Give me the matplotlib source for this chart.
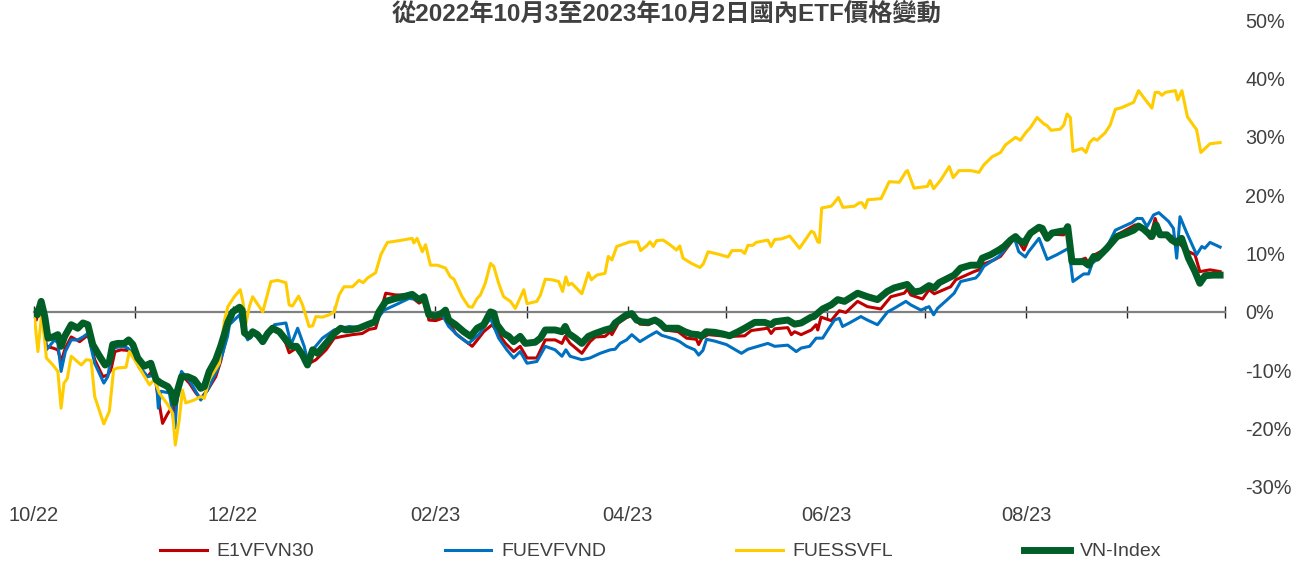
import numpy as np
import pandas as pd
import matplotlib
matplotlib.use('Agg')
import matplotlib.pyplot as plt
import matplotlib.dates as mdates
from matplotlib.ticker import FixedLocator, FuncFormatter

plt.rcParams['font.family'] = ['Liberation Sans', 'Noto Sans CJK TC', 'DejaVu Sans']

start = pd.Timestamp('2022-10-03')
end = pd.Timestamp('2023-10-03')

title = '從2022年10月3至2023年10月2日國內ETF價格變動'
names = ['E1VFVN30', 'FUEVFVND', 'FUESSVFL', 'VN-Index']
colors = ['#C00000', '#0070C0', '#FFCC00', '#005E26']

# x = days after 2022-10-03, y = % change
e1_days = [0, 0.7, 2.2, 3.8, 5.8, 7.3, 8.3, 9.6, 11.4, 14.0,
           16.0, 17.0, 18.6, 21.1, 22.6, 23.6, 24.8, 26.7, 28.7, 30.3,
           32.3, 34.8, 36.7, 37.7, 38.9, 39.4, 41.0, 42.5, 43.2, 44.5,
           45.2, 47.6, 49.6, 51.1, 53.2, 55.7, 57.2, 58.5, 59.9, 63.0,
           64.5, 66.0, 67.0, 68.5, 70.1, 71.6, 73.1, 75.2, 77.2, 78.2,
           80.4, 82.3, 83.8, 86.4, 89.5, 92.0, 94.5, 97.6, 100.6, 102.7,
           104.7, 106.3, 107.8, 110.8, 114.9, 118.0, 119.0, 120.0, 121.0, 123.1,
           125.1, 126.1, 129.2, 131.7, 134.3, 136.3, 137.8, 140.4, 141.9, 144.5,
           147.0, 149.0, 151.1, 154.1, 156.7, 159.7, 161.8, 162.8, 164.3, 167.9,
           170.4, 172.0, 175.0, 176.6, 177.1, 179.1, 182.1, 183.7, 185.7, 188.3,
           190.3, 193.4, 197.4, 200.0, 203.0, 203.7, 204.7, 206.6, 210.6, 213.7,
           217.8, 219.8, 224.9, 225.9, 227.0, 231.0, 232.1, 233.1, 235.1, 238.2,
           239.7, 240.2, 241.2, 244.3, 246.8, 248.8, 252.4, 255.4, 259.5, 262.6,
           266.7, 267.7, 268.7, 272.3, 274.3, 275.9, 280.9, 282.5, 288.1, 289.6,
           291.1, 294.2, 296.2, 299.3, 300.8, 303.4, 305.4, 308.0, 310.5, 312.0,
           315.6, 316.8, 318.1, 322.2, 323.2, 324.8, 328.8, 331.9, 337.5, 340.0,
           342.0, 343.6, 345.1, 349.2, 352.8, 355.8, 357.3, 360.4, 363.5]
e1_vals = [0, -1.4, 1.5, -5.9, -6.2, -6.5, -8.5, -6.2, -4.3, -5.1,
           -4.2, -4.3, -8.2, -11.1, -10.8, -9.9, -6.8, -6.5, -6.6, -7.1,
           -9.6, -11.1, -9.8, -13.4, -17.4, -19.1, -17.4, -16.2, -17.4, -12.8,
           -10.8, -12.2, -13.9, -14.8, -13.4, -11.1, -8.5, -5.4, -0.8, 0.7,
           -3.6, -4.5, -3.6, -4.2, -5.4, -3.9, -2.9, -3.6, -5.4, -7.0,
           -6.2, -7.6, -9.0, -8.2, -6.5, -4.5, -4.2, -3.9, -3.7, -3.0,
           -2.8, 0.3, 3.2, 2.9, 2.9, 1.5, 1.8, 2.3, -1.4, -1.5,
           -1.1, -0.6, -3.7, -4.8, -5.9, -4.5, -3.4, -2.2, -3.4, -5.4,
           -6.8, -5.9, -7.9, -7.9, -4.8, -4.8, -5.4, -4.2, -5.4, -7.1,
           -5.1, -4.3, -4.2, -3.4, -3.9, -1.9, -0.8, -0.7, -2.1, -2.2,
           -1.6, -3.1, -3.4, -4.5, -4.7, -5.6, -4.5, -3.9, -4.1, -4.2,
           -4.1, -3.2, -2.8, -3.7, -2.9, -2.7, -3.9, -3.4, -3.9, -3.1,
           -2.2, -3.1, -0.9, -1.5, 0.2, -0.1, 1.8, 0.9, 0.5, 2.6,
           3.2, 3.9, 2.9, 2.2, 3.8, 3.1, 4.3, 5.5, 6.9, 7.2,
           8.2, 8.9, 9.5, 11.8, 12.9, 10.6, 13.2, 14.3, 12.4, 13.3,
           13.2, 14.6, 8.3, 9.2, 8.3, 9.7, 10.9, 13.2, 14.9, 14.2,
           12.6, 16.0, 13.2, 12.9, 10.6, 9.8, 6.9, 7.2, 6.9]

fuev_days = [0, 2.2, 3.8, 6.3, 7.3, 8.3, 9.6, 11.4, 13.4, 15.0,
             16.5, 18.6, 21.4, 22.6, 24.1, 27.2, 28.7, 30.6, 32.3, 34.8,
             37.4, 38.1, 38.9, 41.5, 43.2, 44.0, 45.2, 48.1, 51.1, 53.2,
             56.2, 57.8, 59.3, 59.9, 63.0, 64.0, 65.5, 67.0, 70.1, 73.7,
             77.2, 78.8, 80.8, 82.8, 83.8, 85.4, 88.4, 92.0, 96.6, 100.6,
             104.2, 107.3, 110.8, 114.9, 118.0, 119.5, 121.0, 125.1, 127.1, 130.2,
             133.2, 136.3, 139.9, 142.4, 144.9, 147.0, 149.0, 151.1, 154.1, 156.7,
             159.7, 161.8, 163.0, 164.3, 167.9, 170.4, 173.5, 176.6, 178.1, 179.6,
             181.6, 183.2, 185.7, 188.3, 190.8, 192.3, 196.4, 197.9, 200.0, 202.5,
             203.7, 205.0, 206.1, 208.6, 212.2, 216.8, 218.8, 221.9, 224.9, 227.0,
             231.0, 233.6, 235.1, 237.7, 239.7, 241.7, 243.3, 245.3, 246.8, 247.8,
             249.9, 253.4, 255.4, 258.5, 261.6, 263.6, 267.2, 268.7, 271.8, 274.3,
             275.7, 276.9, 279.9, 282.0, 284.0, 288.6, 289.6, 291.1, 295.7, 298.3,
             300.3, 301.8, 303.8, 304.8, 308.0, 310.5, 313.5, 317.1, 318.4, 321.7,
             323.2, 324.3, 327.8, 331.4, 336.5, 338.0, 339.6, 341.1, 343.1, 344.7,
             347.7, 349.2, 350.2, 351.2, 353.3, 356.3, 357.9, 358.8, 360.4, 363.5]
fuev_vals = [-0.5, 1.2, -6.5, -4.8, -5.3, -10.2, -6.8, -4.8, -4.8, -4.3,
             -3.7, -8.8, -12.2, -11.1, -6.2, -5.9, -6.2, -7.4, -9.3, -11.1,
             -10.8, -16.5, -13.6, -13.9, -19.9, -13.4, -10.2, -12.2, -15.1, -13.4,
             -9.9, -7.1, -4.2, -2.2, -0.5, -3.1, -4.8, -3.7, -5.1, -2.2,
             -1.9, -5.6, -2.8, -5.9, -8.2, -6.5, -4.5, -3.1, -2.5, -2.8,
             -1.9, 0.3, 1.2, 2.3, 2.1, 2.4, -0.8, -0.5, -2.5, -4.2,
             -5.4, -3.9, -1.1, -4.5, -6.5, -7.9, -6.8, -8.8, -8.5, -5.9,
             -6.5, -7.6, -6.5, -7.6, -8.2, -7.9, -7.1, -6.5, -6.4, -5.4,
             -4.8, -3.9, -5.1, -4.2, -3.4, -4.0, -4.7, -5.1, -5.9, -6.5,
             -7.4, -6.6, -4.7, -5.0, -5.6, -7.1, -6.4, -5.9, -5.4, -5.9,
             -5.7, -6.8, -6.2, -5.9, -4.5, -4.5, -3.1, -1.4, -1.1, -2.5,
             -1.9, -0.8, -1.4, -2.2, 0.0, 0.6, 1.8, 1.2, 0.3, 0.9,
             -0.5, 0.6, 2.1, 3.2, 5.2, 5.8, 6.4, 7.8, 9.5, 11.2,
             12.9, 10.3, 9.4, 10.3, 12.6, 9.0, 9.8, 10.9, 5.2, 6.5,
             6.5, 8.3, 10.0, 14.0, 15.3, 16.0, 16.0, 14.6, 16.6, 17.0,
             15.5, 14.3, 9.2, 16.3, 13.5, 9.8, 11.2, 10.9, 11.9, 11.1]

fuess_days = [0, 1.2, 2.4, 3.8, 5.8, 7.3, 8.3, 9.2, 10.2, 11.4,
              14.5, 16.0, 17.5, 18.6, 21.4, 23.1, 24.4, 25.7, 28.2, 29.2,
              30.8, 32.3, 35.4, 36.9, 38.4, 41.0, 42.5, 43.3, 44.5, 45.5,
              46.5, 49.1, 51.1, 52.2, 53.7, 56.8, 57.5, 58.4, 59.4, 61.4,
              63.2, 64.0, 65.0, 66.0, 67.0, 70.1, 72.6, 74.7, 77.2, 78.2,
              79.2, 81.1, 82.3, 84.3, 85.4, 86.4, 88.4, 90.5, 92.0, 93.5,
              95.0, 97.6, 99.6, 100.9, 102.2, 104.7, 106.3, 108.3, 111.9, 115.9,
              116.4, 117.4, 119.0, 120.0, 121.5, 123.6, 126.1, 127.6, 128.7, 131.2,
              133.2, 134.3, 135.8, 136.8, 138.3, 139.9, 140.9, 142.4, 143.9, 146.0,
              147.5, 148.5, 150.1, 151.1, 152.6, 154.1, 155.2, 156.7, 158.7, 160.8,
              162.0, 163.0, 163.8, 164.8, 167.9, 169.9, 170.8, 172.5, 175.0, 176.0,
              177.1, 178.6, 180.6, 182.6, 185.0, 185.9, 187.7, 188.8, 189.8, 190.8,
              192.8, 194.9, 196.9, 197.9, 198.9, 201.5, 204.1, 205.1, 206.6, 209.6,
              212.7, 213.9, 216.8, 217.8, 218.8, 220.3, 221.3, 224.9, 225.9, 227.0,
              229.0, 231.6, 234.6, 237.2, 238.2, 239.0, 240.2, 240.7, 241.4, 244.3,
              245.1, 246.5, 247.9, 251.4, 253.0, 253.7, 254.7, 255.5, 259.6, 262.1,
              265.2, 267.2, 267.7, 269.7, 273.8, 274.6, 275.7, 277.9, 280.5, 281.7,
              283.5, 287.1, 289.6, 291.1, 293.7, 295.2, 296.2, 297.7, 300.8, 302.3,
              303.8, 305.4, 307.4, 309.5, 310.5, 311.7, 314.5, 315.6, 316.6, 317.6,
              318.4, 321.2, 322.4, 323.5, 324.8, 325.8, 328.3, 329.8, 331.4, 333.4,
              337.0, 338.5, 340.5, 342.6, 343.6, 344.7, 345.7, 346.7, 349.8, 350.5,
              351.8, 353.5, 356.3, 357.6, 360.4, 363.5]
fuess_vals = [0, -6.8, 0.0, -7.9, -9.1, -10.2, -16.5, -12.2, -11.4, -7.6,
              -9.1, -8.2, -8.3, -14.5, -19.2, -17.0, -9.9, -9.6, -9.5, -6.8,
              -8.2, -9.6, -12.5, -11.6, -13.9, -15.9, -17.4, -22.8, -18.5, -13.4,
              -15.6, -15.1, -14.5, -14.8, -11.6, -8.8, -5.0, -1.4, 0.9, 2.6,
              3.8, 1.8, -1.9, 0.9, 2.6, 0.0, 5.2, 5.4, 5.0, 1.2,
              1.0, 2.7, 1.2, -2.5, -2.4, -0.8, -0.9, -0.5, 0.0, 2.9,
              4.3, 4.3, 5.4, 5.0, 5.8, 6.7, 9.8, 11.9, 12.2, 12.6,
              11.8, 12.6, 10.3, 11.5, 8.0, 8.0, 7.5, 6.0, 5.6, 2.6,
              0.9, 0.8, 2.3, 2.9, 4.9, 8.3, 7.8, 4.9, 2.6, 1.8,
              0.6, 1.8, 3.8, 1.4, 1.6, 1.8, 2.9, 5.6, 5.5, 5.2,
              3.5, 6.0, 4.6, 4.9, 3.1, 6.7, 5.5, 6.3, 6.6, 9.5,
              8.9, 11.2, 11.6, 12.0, 12.0, 10.5, 11.3, 12.0, 11.2, 12.2,
              12.3, 11.5, 10.6, 11.3, 9.2, 8.3, 7.6, 8.2, 10.3, 9.9,
              9.4, 10.5, 10.5, 10.0, 11.4, 11.4, 11.9, 12.3, 11.2, 12.4,
              12.5, 13.0, 10.9, 13.0, 13.8, 13.6, 12.0, 11.9, 17.8, 18.1,
              18.6, 19.6, 17.9, 18.1, 18.7, 18.7, 17.8, 19.2, 19.4, 22.3,
              22.2, 24.0, 24.2, 21.2, 21.5, 22.5, 21.1, 22.6, 24.9, 23.0,
              24.2, 24.2, 23.9, 25.2, 26.6, 27.0, 27.3, 28.6, 29.9, 29.4,
              30.6, 31.6, 33.3, 32.2, 31.9, 31.1, 31.3, 32.0, 33.9, 33.3,
              27.5, 28.0, 27.3, 29.0, 29.7, 29.4, 30.7, 32.0, 34.7, 35.0,
              35.9, 37.9, 36.4, 34.9, 37.6, 37.6, 37.1, 37.6, 37.9, 36.3,
              37.9, 33.4, 31.2, 27.3, 28.8, 29.0]

vn_days = [0, 1.0, 2.2, 3.3, 4.3, 5.8, 7.3, 8.3, 9.4, 11.4,
           13.4, 15.0, 16.5, 18.0, 20.1, 21.8, 23.1, 24.1, 25.7, 27.7,
           29.0, 30.3, 31.8, 33.8, 35.8, 37.4, 38.9, 41.0, 42.3, 43.0,
           44.0, 45.2, 47.1, 49.1, 51.1, 52.2, 53.7, 55.7, 57.2, 58.3,
           59.4, 60.9, 63.0, 63.8, 64.5, 66.0, 67.0, 68.5, 70.1, 71.6,
           73.1, 75.2, 77.2, 78.8, 80.5, 82.3, 83.8, 85.4, 86.9, 89.5,
           92.0, 94.0, 95.6, 97.6, 99.6, 102.2, 104.5, 105.7, 107.8, 110.8,
           113.9, 115.9, 118.0, 119.5, 121.0, 123.1, 125.1, 126.1, 127.1, 129.2,
           131.7, 133.8, 135.8, 137.8, 139.9, 140.9, 141.9, 143.9, 145.5, 147.0,
           149.0, 150.6, 153.6, 155.2, 156.7, 159.7, 161.8, 162.8, 163.8, 165.9,
           167.9, 169.9, 172.0, 175.0, 177.0, 178.1, 180.1, 181.6, 183.2, 184.7,
           186.2, 188.3, 190.3, 191.8, 193.4, 195.4, 197.4, 199.5, 201.5, 203.5,
           204.5, 206.0, 208.6, 211.2, 213.2, 215.8, 217.8, 220.9, 223.9, 225.9,
           227.0, 231.0, 233.1, 235.1, 238.2, 239.0, 241.7, 244.3, 246.3, 248.4,
           252.4, 255.4, 258.5, 261.5, 263.6, 267.6, 269.7, 271.8, 274.3, 275.9,
           277.4, 282.0, 284.0, 287.1, 289.6, 290.6, 293.2, 295.7, 297.3, 299.3,
           300.8, 301.8, 303.4, 305.4, 308.0, 309.0, 310.5, 312.0, 314.6, 316.1,
           316.8, 318.1, 321.7, 323.2, 324.8, 325.8, 328.8, 331.9, 334.9, 337.0,
           338.5, 340.0, 342.6, 343.9, 345.1, 347.2, 348.7, 350.2, 351.7, 353.8,
           355.8, 357.3, 358.9, 361.4, 363.5]
vn_vals = [0, -0.5, 1.8, -0.8, -4.5, -4.3, -3.9, -5.9, -4.2, -2.2,
           -2.8, -1.9, -2.2, -5.6, -7.6, -9.1, -8.5, -5.6, -5.4, -5.4,
           -4.8, -5.6, -7.9, -9.3, -8.8, -11.6, -12.2, -12.8, -13.9, -15.6,
           -13.4, -11.1, -11.1, -11.6, -13.1, -12.8, -10.2, -8.2, -5.9, -3.9,
           -1.8, 0.0, 0.8, 0.3, -3.6, -4.2, -3.4, -3.9, -5.1, -3.7,
           -2.8, -3.4, -4.8, -5.9, -5.9, -7.4, -9.1, -6.5, -7.1, -5.4,
           -3.7, -2.8, -3.1, -3.0, -2.8, -2.2, -1.7, 0.0, 1.8, 2.3,
           2.7, 3.0, 2.1, 2.6, -0.5, -0.7, -0.2, 0.3, -1.4, -2.2,
           -3.4, -4.2, -2.8, -2.2, 0.0, -0.2, -2.2, -3.7, -4.2, -5.1,
           -4.2, -5.4, -5.2, -4.5, -3.1, -3.1, -3.4, -2.5, -3.7, -4.5,
           -5.4, -4.2, -3.7, -3.1, -2.8, -1.9, -1.1, -0.5, -0.3, -1.4,
           -1.7, -1.8, -1.4, -1.9, -2.8, -2.8, -2.8, -3.4, -3.8, -3.9,
           -4.2, -3.4, -3.5, -3.8, -4.1, -3.4, -2.8, -1.8, -1.8, -2.2,
           -1.7, -1.4, -2.1, -1.9, -0.9, -0.8, 0.5, 1.2, 2.1, 1.8,
           3.2, 2.6, 2.1, 3.5, 4.1, 4.7, 3.4, 3.6, 4.5, 4.1,
           5.0, 6.3, 7.5, 8.0, 8.0, 9.2, 9.8, 10.6, 11.2, 12.3,
           12.9, 12.3, 11.8, 13.5, 14.5, 14.3, 12.6, 13.5, 13.8, 13.9,
           14.6, 8.6, 8.6, 8.0, 9.5, 9.2, 10.9, 12.9, 13.5, 14.0,
           14.7, 14.2, 12.9, 14.9, 13.2, 13.2, 12.3, 11.8, 12.6, 9.2,
           6.9, 4.9, 6.2, 6.3, 6.3]

y_ticks = [-30, -20, -10, 0, 10, 20, 30, 40, 50]


def to_num(days):
    return mdates.date2num(start + pd.to_timedelta(np.array(days), unit='D'))


fig = plt.figure(figsize=(12.96, 5.64), dpi=100)
ax = fig.add_axes([34 / 1296, 1 - 487 / 564, 1191 / 1296, 467 / 564])

series = [(e1_days, e1_vals), (fuev_days, fuev_vals),
          (fuess_days, fuess_vals), (vn_days, vn_vals)]
widths = [2.2, 2.2, 2.2, 5.0]
for (d, v), name, c, lw in zip(series, names, colors, widths):
    ax.plot(to_num(d), v, color=c, lw=lw, label=name, zorder=3,
            solid_joinstyle='round')

ax.set_xlim(mdates.date2num(start), mdates.date2num(end))
ax.set_ylim(-30, 50)

# zero line with monthly ticks
for s in ['top', 'left', 'right']:
    ax.spines[s].set_visible(False)
ax.spines['bottom'].set_position(('data', 0))
ax.spines['bottom'].set_color('#808080')
ax.spines['bottom'].set_linewidth(1.6)
ax.spines['bottom'].set_zorder(2)
month_ticks = pd.date_range(start, end, freq=pd.DateOffset(months=1))
ax.xaxis.set_major_locator(FixedLocator(mdates.date2num(month_ticks)))
ax.tick_params(axis='x', direction='inout', length=8, width=1,
               color='#262626', labelbottom=False)

# right-hand percent labels
ax.yaxis.tick_right()
ax.set_yticks(y_ticks)
ax.yaxis.set_major_formatter(FuncFormatter(lambda v, p: f'{v:.0f}%'))
ax.tick_params(axis='y', length=0, pad=14.5, labelsize=14.3, labelcolor='#404040')

# month labels at the bottom
sec = ax.secondary_xaxis('bottom')
sec.spines['bottom'].set_visible(False)
label_ticks = pd.date_range(start, periods=6, freq=pd.DateOffset(months=2))
sec.xaxis.set_major_locator(FixedLocator(mdates.date2num(label_ticks)))
sec.xaxis.set_major_formatter(mdates.DateFormatter('%m/%y'))
sec.tick_params(axis='x', length=0, pad=14, labelsize=14.5, labelcolor='#404040')

fig.text(0.514, 0.975, title, ha='center', va='center', fontsize=17.5,
         fontweight='bold', color='#404040',
         family=['Liberation Sans', 'Noto Sans CJK TC'])

fig.legend(loc='center', bbox_to_anchor=(0.51, 0.022), ncol=4, frameon=False,
           fontsize=14, handlelength=2.4, handletextpad=0.5, columnspacing=6.7,
           labelcolor='#404040')

fig.savefig('out.png', dpi=100)
